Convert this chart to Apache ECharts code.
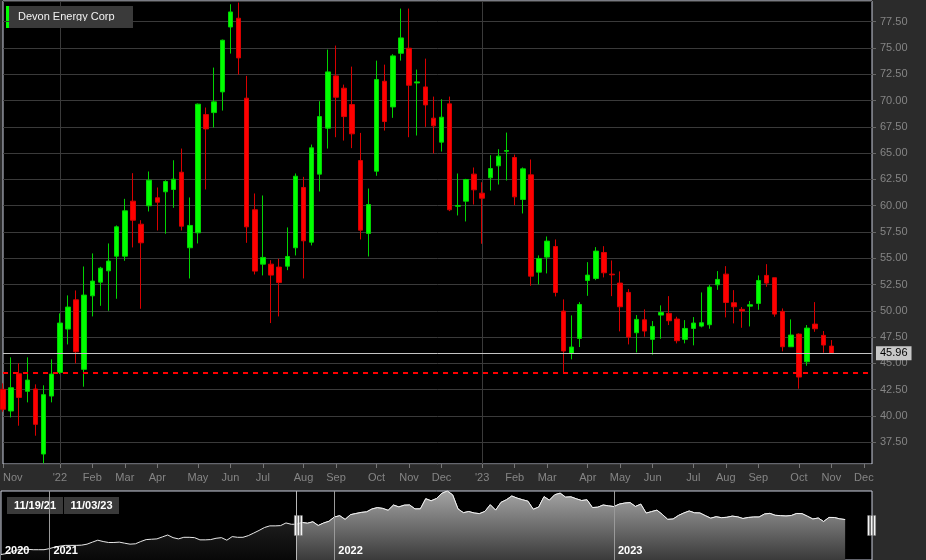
<!DOCTYPE html>
<html>
<head>
<meta charset="utf-8">
<script src="https://cdn.jsdelivr.net/npm/echarts@6.0.0/dist/echarts.min.js"></script>
<style>
html,body{margin:0;padding:0;background:#2b2b2b;}
#chart{width:926px;height:560px;}
</style>
</head>
<body>
<div id="chart"></div>
<script>
// ---- Categories: weekly bars (Fridays) ----
const weeks = [
'2020-10-30','2020-11-06','2020-11-13','2020-11-20','2020-11-27','2020-12-04','2020-12-11','2020-12-18','2020-12-25',
'2021-01-01','2021-01-08','2021-01-15','2021-01-22','2021-01-29','2021-02-05','2021-02-12','2021-02-19','2021-02-26',
'2021-03-05','2021-03-12','2021-03-19','2021-03-26','2021-04-02','2021-04-09','2021-04-16','2021-04-23','2021-04-30',
'2021-05-07','2021-05-14','2021-05-21','2021-05-28','2021-06-04','2021-06-11','2021-06-18','2021-06-25','2021-07-02',
'2021-07-09','2021-07-16','2021-07-23','2021-07-30','2021-08-06','2021-08-13','2021-08-20','2021-08-27','2021-09-03',
'2021-09-10','2021-09-17','2021-09-24','2021-10-01','2021-10-08','2021-10-15','2021-10-22','2021-10-29','2021-11-05',
'2021-11-12','2021-11-19','2021-11-26','2021-12-03','2021-12-10','2021-12-17','2021-12-24','2021-12-31',
'2022-01-07','2022-01-14','2022-01-21','2022-01-28','2022-02-04','2022-02-11','2022-02-18','2022-02-25','2022-03-04',
'2022-03-11','2022-03-18','2022-03-25','2022-04-01','2022-04-08','2022-04-15','2022-04-22','2022-04-29','2022-05-06',
'2022-05-13','2022-05-20','2022-05-27','2022-06-03','2022-06-10','2022-06-17','2022-06-24','2022-07-01','2022-07-08',
'2022-07-15','2022-07-22','2022-07-29','2022-08-05','2022-08-12','2022-08-19','2022-08-26','2022-09-02','2022-09-09',
'2022-09-16','2022-09-23','2022-09-30','2022-10-07','2022-10-14','2022-10-21','2022-10-28','2022-11-04','2022-11-11',
'2022-11-18','2022-11-25','2022-12-02','2022-12-09','2022-12-16','2022-12-23','2022-12-30',
'2023-01-06','2023-01-13','2023-01-20','2023-01-27','2023-02-03','2023-02-10','2023-02-17','2023-02-24','2023-03-03',
'2023-03-10','2023-03-17','2023-03-24','2023-03-31','2023-04-07','2023-04-14','2023-04-21','2023-04-28','2023-05-05',
'2023-05-12','2023-05-19','2023-05-26','2023-06-02','2023-06-09','2023-06-16','2023-06-23','2023-06-30','2023-07-07',
'2023-07-14','2023-07-21','2023-07-28','2023-08-04','2023-08-11','2023-08-18','2023-08-25','2023-09-01','2023-09-08',
'2023-09-15','2023-09-22','2023-09-29','2023-10-06','2023-10-13','2023-10-20','2023-10-27','2023-11-03','2023-11-10',
'2023-11-17','2023-11-24','2023-12-01','2023-12-08'
];
const windowStartWeek = '2021-11-19';
const seriesName = 'Devon Energy Corp';
const monthNames = ['Jan','Feb','Mar','Apr','May','Jun','Jul','Aug','Sep','Oct','Nov','Dec'];

// ---- Closing prices before the visible window (navigator only) ----
const preWindowCloses = [
6.2,7.3,9.5,11.4,12.5,12.1,11.7,11.7,11.7,12.9,14.7,15.8,16.6,16.6,16.6,16.9,18.0,20.3,22.5,21.0,
19.9,19.9,20.3,19.1,18.0,18.4,21.0,23.2,23.6,24.0,26.2,28.4,25.4,24.0,25.8,25.8,25.4,22.9,22.9,23.2,
24.7,25.4,22.5,26.6,25.8,25.8,27.7,30.6,33.6,36.9,38.8,38.8,39.1,42.1,40.6
];

// ---- Weekly OHLC from 2021-11-19 to 2023-11-03 ----
const opens = [
42.54,40.48,44.02,42.35,42.57,36.39,41.90,44.15,48.27,51.05,44.44,51.43,52.73,53.81,55.20,55.20,60.43,58.24,59.99,60.75,
61.32,61.54,63.18,56.00,57.42,68.66,68.85,70.82,76.99,77.82,70.22,59.61,54.44,54.44,54.16,54.25,56.00,61.73,56.53,63.00,
67.37,72.34,71.17,69.61,64.29,57.36,63.28,71.83,69.39,74.49,74.97,71.67,71.29,68.32,66.04,69.68,59.95,60.43,63.00,61.19,
62.65,63.79,65.18,64.58,60.59,62.93,53.68,55.11,56.12,49.98,45.96,47.38,52.89,53.08,55.55,53.49,52.64,51.75,47.92,49.15,
47.29,49.60,49.76,49.22,47.29,48.33,48.55,48.68,52.48,53.49,50.77,50.14,50.45,50.71,53.37,53.15,49.95,46.59,47.79,45.16,
48.74,47.67,46.65
];
const highs = [
43.11,45.58,45.01,45.58,43.01,42.92,45.39,49.76,51.47,51.94,54.22,55.46,54.19,56.41,58.12,60.65,63.09,58.62,63.25,61.73,
62.42,64.32,65.43,60.78,69.71,69.33,73.13,75.79,79.15,79.31,72.34,61.16,60.97,54.82,54.95,57.93,63.06,62.74,65.81,69.93,
74.84,75.22,71.51,73.22,66.92,61.63,73.79,73.41,74.40,78.74,78.74,72.94,73.98,70.37,70.12,70.37,63.06,62.55,63.63,62.23,
64.80,65.37,66.95,64.86,63.63,64.39,55.27,57.07,56.79,51.09,49.57,50.83,54.63,56.06,56.15,54.79,53.75,52.07,49.60,50.14,
49.03,50.52,51.40,49.44,49.12,49.41,51.75,52.45,53.78,54.25,51.97,50.36,50.93,53.37,54.44,53.15,50.23,49.19,47.86,48.65,
50.83,48.08,47.22
];
const lows = [
40.41,39.87,39.08,41.30,38.13,35.50,41.30,43.99,46.81,45.01,42.79,49.47,50.48,50.01,51.15,54.76,56.03,50.20,59.45,57.64,
57.33,59.80,57.64,53.08,56.41,61.54,67.43,69.04,74.46,72.46,56.47,53.46,53.37,48.84,49.47,53.87,55.27,53.08,56.22,61.35,
65.43,66.51,66.19,65.47,56.79,55.17,62.84,67.14,68.35,73.79,66.51,66.67,67.49,64.96,65.15,59.48,59.07,58.50,60.11,56.38,
61.44,62.01,62.39,60.05,59.26,52.39,52.51,53.56,51.37,44.12,45.39,46.56,51.43,52.92,53.18,51.40,48.05,46.81,46.05,47.54,
45.83,47.35,48.65,46.91,46.91,46.72,48.43,48.30,52.00,49.38,48.81,48.39,48.52,50.10,52.29,49.44,46.15,46.56,42.60,44.78,
48.01,46.02,45.96
];
const closes = [
40.64,42.69,41.77,43.42,39.21,42.03,43.99,48.84,50.36,46.11,51.50,52.83,54.06,54.73,57.99,59.51,58.62,56.47,62.42,60.33,
62.30,62.52,58.05,58.12,69.65,67.30,69.87,75.73,78.42,74.05,57.99,53.78,55.08,53.40,52.70,55.17,62.80,56.66,65.50,68.47,
72.72,70.31,68.47,66.83,57.67,60.11,71.99,68.00,74.24,75.95,71.45,71.77,69.58,67.59,68.41,59.61,60.02,62.49,61.51,60.71,
63.53,64.71,65.24,60.84,63.50,53.30,54.98,56.63,51.75,46.18,46.56,50.61,53.40,55.68,53.62,53.43,50.39,47.51,49.19,48.08,
48.52,49.85,49.06,47.16,48.33,48.84,48.87,52.26,52.99,50.80,50.39,49.98,50.58,52.89,52.64,49.69,46.59,47.70,43.71,48.36,
48.30,46.75,45.96
];

// ---- Reference levels / axis range ----
const supportLevel = 44.12;
const priceMin = 35.44, priceMax = 79.46, priceStep = 2.5;

// ---- Derived structures ----
const startIdx = weeks.indexOf(windowStartWeek);
const lastIdx = startIdx + closes.length - 1;
const lastClose = closes[closes.length - 1];
const candleData = weeks.map((w, i) => {
  const k = i - startIdx;
  return (k >= 0 && k < closes.length) ? [opens[k], closes[k], lows[k], highs[k]] : ['-', '-', '-', '-'];
});
const overviewAll = weeks.map((w, i) => {
  if (i < startIdx) return preWindowCloses[i];
  const k = i - startIdx;
  return k < closes.length ? closes[k] : '-';
});
const overviewSel = overviewAll.map((v, i) => i >= startIdx ? v : '-');

const monthOf = i => weeks[i].slice(5, 7);
const isMonthLabel = i => i === startIdx || (i > 0 && monthOf(i) !== monthOf(i - 1) && i - startIdx >= 3);
const isYearStart = i => i > 0 && weeks[i].slice(0, 4) !== weeks[i - 1].slice(0, 4);
const isOverviewYear = i => i === 0 || isYearStart(i);
const monthLabel = v => {
  const m = parseInt(v.slice(5, 7), 10);
  return m === 1 ? "'" + v.slice(2, 4) : monthNames[m - 1];
};
const shortDate = v => v.slice(5, 7) + '/' + v.slice(8, 10) + '/' + v.slice(2, 4);

const FONT = 'Arial, "Liberation Sans", sans-serif';
const chart = echarts.init(document.getElementById('chart'), null, {renderer: 'canvas'});

chart.setOption({
  backgroundColor: '#2b2b2b',
  animation: false,
  textStyle: {fontFamily: FONT},
  grid: [
    {left: 1, right: 54, top: 1, height: 463, show: true, backgroundColor: '#000', borderColor: '#c9cddc', borderWidth: 1},
    {left: 1, right: 54, top: 491, height: 69, show: true, backgroundColor: '#000', borderColor: '#c9cddc', borderWidth: 1}
  ],
  xAxis: [
    {
      type: 'category', gridIndex: 0, data: weeks, boundaryGap: false,
      axisLine: {show: false},
      axisTick: {show: true, length: 4, interval: isMonthLabel, lineStyle: {color: '#777'}},
      axisLabel: {show: true, interval: isMonthLabel, formatter: monthLabel, color: '#858585',
        fontSize: 11, fontFamily: FONT, margin: 8, alignMinLabel: 'left'},
      splitLine: {show: true, interval: isYearStart, lineStyle: {color: '#3a3a3a', width: 1}}
    },
    {
      type: 'category', gridIndex: 1, data: weeks, boundaryGap: false, z: 3,
      axisLine: {show: false}, axisTick: {show: false},
      axisLabel: {show: true, inside: true, interval: isOverviewYear, formatter: v => v.slice(0, 4),
        color: '#ffffff', fontWeight: 'bold', fontSize: 11, fontFamily: FONT, align: 'left', margin: 4, padding: [0, 0, 0, 4]},
      splitLine: {show: true, interval: isYearStart, lineStyle: {color: '#9a9a9a', width: 1}}
    }
  ],
  yAxis: [
    {
      type: 'value', gridIndex: 0, position: 'right', min: priceMin, max: priceMax,
      minInterval: priceStep, maxInterval: priceStep, splitNumber: 17,
      axisLine: {show: false},
      axisTick: {show: true, length: 4, lineStyle: {color: '#666'}},
      axisLabel: {color: '#858585', fontSize: 11, fontFamily: FONT, margin: 8,
        formatter: v => v.toFixed(2), showMinLabel: false, showMaxLabel: false},
      splitLine: {show: true, lineStyle: {color: '#3a3a3a', width: 1}}
    },
    {type: 'value', gridIndex: 1, min: 0, max: 'dataMax', show: false}
  ],
  dataZoom: [{
    type: 'slider', xAxisIndex: 0, startValue: startIdx, endValue: weeks.length - 1,
    left: 1, right: 54, top: 491, height: 69,
    showDataShadow: false, showDetail: false, brushSelect: false, moveHandleSize: 0,
    backgroundColor: 'rgba(0,0,0,0)', fillerColor: 'rgba(0,0,0,0)', borderColor: 'rgba(0,0,0,0)',
    handleIcon: 'path://M0,0H2V20H0Z M3,0H5V20H3Z M6,0H8V20H6Z',
    handleSize: 20, handleStyle: {color: '#ffffff', borderColor: '#777', borderWidth: 0.5},
    filterMode: 'filter', z: 10
  }],
  series: [
    {
      name: seriesName, type: 'candlestick', xAxisIndex: 0, yAxisIndex: 0, data: candleData,
      barWidth: 5, clip: true, silent: true,
      itemStyle: {color: '#00ff00', color0: '#ff0000', borderColor: '#00d400', borderColor0: '#d80000', borderWidth: 1},
      markLine: {
        symbol: 'none', silent: true, animation: false,
        data: [
          {yAxis: lastClose, lineStyle: {color: '#c4c4c4', width: 1, type: 'solid'},
            label: {show: true, position: 'end', formatter: lastClose.toFixed(2), backgroundColor: '#c8c8c8',
              color: '#000', fontSize: 11, fontFamily: FONT, padding: [2, 4, 1, 4], distance: 4}},
          {yAxis: supportLevel, lineStyle: {color: '#ff0000', width: 2, type: [5, 5]}, label: {show: false}}
        ]
      }
    },
    {
      name: 'overview', type: 'line', xAxisIndex: 1, yAxisIndex: 1, data: overviewAll,
      symbol: 'none', silent: true, z: 1,
      lineStyle: {color: '#e8e8e8', width: 1},
      areaStyle: {color: {type: 'linear', x: 0, y: 0, x2: 0, y2: 1,
        colorStops: [{offset: 0, color: '#2e2e2e'}, {offset: 1, color: '#080808'}]}, opacity: 1}
    },
    {
      name: 'overview-selected', type: 'line', xAxisIndex: 1, yAxisIndex: 1, data: overviewSel,
      symbol: 'none', silent: true, z: 2,
      lineStyle: {color: '#f0f0f0', width: 1},
      areaStyle: {color: {type: 'linear', x: 0, y: 0, x2: 0, y2: 1,
        colorStops: [{offset: 0, color: '#a4a4a4'}, {offset: 1, color: '#3a3a3a'}]}, opacity: 1},
      markLine: {symbol: 'none', silent: true, animation: false, label: {show: false},
        lineStyle: {color: '#b8b8b8', width: 1, type: 'solid'},
        data: [{xAxis: weeks[startIdx]}]}
    }
  ],
  graphic: [
    {type: 'group', left: 6, top: 6, children: [
      {type: 'rect', shape: {x: 0, y: 0, width: 127, height: 22}, style: {fill: '#3a3a3a'}},
      {type: 'rect', shape: {x: 0, y: 0, width: 3, height: 22}, style: {fill: '#00ff00'}},
      {type: 'text', x: 12, y: 11, style: {text: seriesName, fill: '#f2f2f2', font: '11px ' + FONT, verticalAlign: 'middle'}}
    ]},
    {type: 'group', left: 7, top: 497, z: 20, children: [
      {type: 'rect', shape: {x: 0, y: 0, width: 56, height: 17}, style: {fill: '#3a3a3a'}},
      {type: 'text', x: 28, y: 9, style: {text: shortDate(weeks[startIdx]), fill: '#ffffff', font: 'bold 11px ' + FONT, align: 'center', verticalAlign: 'middle'}},
      {type: 'rect', shape: {x: 57, y: 0, width: 55, height: 17}, style: {fill: '#3a3a3a'}},
      {type: 'text', x: 84.5, y: 9, style: {text: shortDate(weeks[lastIdx]), fill: '#ffffff', font: 'bold 11px ' + FONT, align: 'center', verticalAlign: 'middle'}}
    ]}
  ]
});
</script>
</body>
</html>
